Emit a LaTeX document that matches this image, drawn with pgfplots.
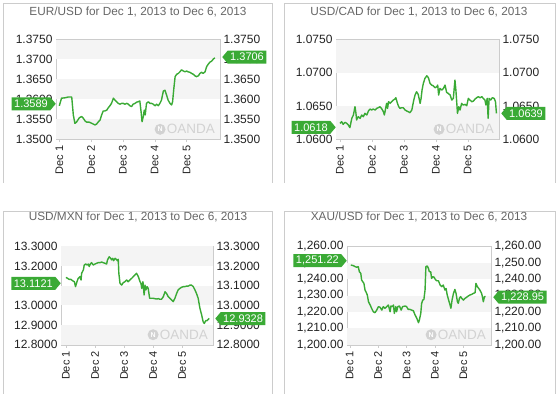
\documentclass[border=0pt]{standalone}
\usepackage{pgfplots}
\pgfplotsset{compat=1.18}
\usepackage{fontspec}
\setmainfont{Liberation Sans}
\usetikzlibrary{shapes.symbols}
\definecolor{oagreen}{HTML}{3AAA35}
\definecolor{bandgray}{HTML}{F4F4F4}
\definecolor{framegray}{HTML}{CCCCCC}
\definecolor{titlegray}{HTML}{666666}
\definecolor{wmgray}{HTML}{D2D2D2}
\definecolor{labelblack}{HTML}{222222}
\pgfplotsset{
  fxbase/.style={
    scale only axis, clip mode=individual,
    axis line style={draw=framegray},
    xtick={0,1,2,3,4}, xticklabels={Dec 1,Dec 2,Dec 3,Dec 4,Dec 5},
    xtick align=outside, major tick length=3pt,
    xtick style={draw=framegray}, xtick pos=left,
    ytick style={draw=none},
    xticklabel style={rotate=90, anchor=east, font=\fontsize{11}{12}\selectfont, text=labelblack},
    yticklabel style={font=\fontsize{12}{13}\selectfont, text=labelblack},
    /pgf/number format/assume math mode=true,
    scaled y ticks=false,
  },
  fxright/.style={
    scale only axis, hide x axis,
    axis line style={draw=none}, ytick style={draw=none},
    yticklabel pos=right,
    yticklabel style={font=\fontsize{12}{13}\selectfont, text=labelblack},
    /pgf/number format/assume math mode=true,
    scaled y ticks=false,
  },
  fxline/.style={oagreen, line width=1.4pt, line join=round, no marks},
}
\tikzset{
  callL/.style={signal, signal to=east, signal pointer angle=100, fill=oagreen, text=white,
    font=\fontsize{11}{12}\selectfont, inner xsep=2.5pt, inner ysep=1.5pt, minimum height=13pt, anchor=east},
  callR/.style={signal, signal to=west, signal pointer angle=100, fill=oagreen, text=white,
    font=\fontsize{11}{12}\selectfont, inner xsep=2.5pt, inner ysep=1.5pt, minimum height=13pt, anchor=west},
  wm/.style={text=wmgray, font=\fontsize{13.5}{14}\selectfont, inner sep=0pt, anchor=south east},
  ttl/.style={text=titlegray, font=\fontsize{11.8}{13}\selectfont},
}
\begin{document}
\begin{tikzpicture}[x=1pt,y=1pt]
\useasboundingbox (0,0) rectangle (558,-394);
% panel frames
\draw[framegray] (3,-183) -- (3,-3) -- (272,-3) -- (272,-183);
\draw[framegray] (284,-183) -- (284,-3) -- (555,-3) -- (555,-183);
\draw[framegray] (3,-394) -- (3,-211) -- (272,-211) -- (272,-394);
\draw[framegray] (284,-394) -- (284,-211) -- (555,-211) -- (555,-394);
% titles
\node[ttl] at (138,-12) {EUR/USD for Dec 1, 2013 to Dec 6, 2013};
\node[ttl] at (419,-12) {USD/CAD for Dec 1, 2013 to Dec 6, 2013};
\node[ttl] at (138,-217) {USD/MXN for Dec 1, 2013 to Dec 6, 2013};
\node[ttl] at (419,-217) {XAU/USD for Dec 1, 2013 to Dec 6, 2013};

% ---------------- EUR/USD ----------------
\begin{axis}[fxbase, at={(56pt,-139.3pt)}, anchor=south west, width=164pt, height=99.8pt,
  xmin=-0.104, xmax=5.05, ymin=1.35, ymax=1.375,
  ytick={1.35,1.355,1.36,1.365,1.37,1.375},
  yticklabel style={/pgf/number format/fixed, /pgf/number format/fixed zerofill, /pgf/number format/precision=4}]
\fill[bandgray] (axis cs:-0.104,1.370) rectangle (axis cs:5.05,1.375);
\fill[bandgray] (axis cs:-0.104,1.360) rectangle (axis cs:5.05,1.365);
\fill[bandgray] (axis cs:-0.104,1.350) rectangle (axis cs:5.05,1.355);
\node[wm] (wmA) at (rel axis cs:1,0) [xshift=-5pt, yshift=5pt] {OANDA};
\fill[wmgray] ([xshift=-6.5pt]wmA.west) circle (5.5pt);
\node[text=white, font=\bfseries\fontsize{7}{7}\selectfont, inner sep=0pt] at ([xshift=-6.5pt]wmA.west) {N};
\addplot[fxline] table {
0.00 1.3584
0.07 1.3603
0.18 1.3604
0.28 1.3606
0.39 1.3606
0.44 1.3561
0.49 1.3540
0.54 1.3543
0.63 1.3554
0.70 1.3557
0.75 1.3553
0.81 1.3546
0.86 1.3543
0.94 1.3543
1.02 1.3540
1.07 1.3538
1.12 1.3536
1.17 1.3538
1.23 1.3544
1.28 1.3548
1.33 1.3561
1.38 1.3571
1.43 1.3571
1.49 1.3573
1.54 1.3579
1.59 1.3584
1.64 1.3590
1.70 1.3603
1.75 1.3598
1.80 1.3594
1.85 1.3590
1.91 1.3588
1.96 1.3590
2.01 1.3590
2.06 1.3588
2.12 1.3590
2.17 1.3588
2.22 1.3584
2.27 1.3582
2.32 1.3588
2.38 1.3590
2.43 1.3593
2.48 1.3594
2.53 1.3596
2.57 1.3569
2.60 1.3544
2.64 1.3557
2.67 1.3573
2.70 1.3561
2.74 1.3590
2.80 1.3594
2.85 1.3590
2.90 1.3590
2.95 1.3588
3.01 1.3584
3.06 1.3588
3.11 1.3584
3.16 1.3590
3.21 1.3598
3.27 1.3621
3.32 1.3623
3.37 1.3611
3.42 1.3598
3.48 1.3590
3.53 1.3586
3.56 1.3594
3.60 1.3628
3.64 1.3657
3.69 1.3663
3.74 1.3665
3.79 1.3669
3.84 1.3674
3.90 1.3671
3.95 1.3669
4.00 1.3671
4.05 1.3669
4.10 1.3668
4.16 1.3665
4.21 1.3663
4.26 1.3659
4.31 1.3657
4.37 1.3659
4.42 1.3665
4.47 1.3668
4.52 1.3665
4.58 1.3669
4.63 1.3682
4.68 1.3688
4.73 1.3693
4.79 1.3696
4.84 1.3701
4.89 1.3704
};
\coordinate (AL) at (axis cs:-0.104,1.3589);
\coordinate (AR) at (axis cs:5.05,1.3706);
\end{axis}
\begin{axis}[fxright, at={(56pt,-139.3pt)}, anchor=south west, width=164pt, height=99.8pt,
  xmin=-0.104, xmax=5.05, ymin=1.35, ymax=1.375,
  ytick={1.35,1.355,1.36,1.365,1.37,1.375},
  yticklabel style={/pgf/number format/fixed, /pgf/number format/fixed zerofill, /pgf/number format/precision=4}]
\end{axis}

% ---------------- USD/CAD ----------------
\begin{axis}[fxbase, at={(336pt,-139.3pt)}, anchor=south west, width=163pt, height=99.8pt,
  xmin=-0.125, xmax=4.98, ymin=1.06, ymax=1.075,
  ytick={1.06,1.065,1.07,1.075},
  yticklabel style={/pgf/number format/fixed, /pgf/number format/fixed zerofill, /pgf/number format/precision=4}]
\fill[bandgray] (axis cs:-0.125,1.070) rectangle (axis cs:4.98,1.075);
\fill[bandgray] (axis cs:-0.125,1.060) rectangle (axis cs:4.98,1.065);
\node[wm] (wmB) at (rel axis cs:1,0) [xshift=-5pt, yshift=5pt] {OANDA};
\fill[wmgray] ([xshift=-6.5pt]wmB.west) circle (5.5pt);
\node[text=white, font=\bfseries\fontsize{7}{7}\selectfont, inner sep=0pt] at ([xshift=-6.5pt]wmB.west) {N};
\addplot[fxline] table {
0.00 1.06240
0.05 1.06265
0.10 1.06225
0.16 1.06255
0.21 1.06240
0.26 1.06215
0.31 1.06175
0.37 1.06315
0.42 1.06365
0.47 1.06490
0.50 1.06390
0.52 1.06290
0.57 1.06340
0.63 1.06315
0.68 1.06365
0.73 1.06340
0.78 1.06390
0.84 1.06365
0.89 1.06425
0.94 1.06455
0.99 1.06440
1.04 1.06455
1.10 1.06440
1.15 1.06465
1.20 1.06475
1.25 1.06490
1.30 1.06465
1.36 1.06415
1.39 1.06365
1.42 1.06440
1.46 1.06540
1.49 1.06465
1.52 1.06565
1.57 1.06540
1.62 1.06565
1.67 1.06590
1.72 1.06605
1.75 1.06625
1.80 1.06540
1.84 1.06490
1.88 1.06465
1.93 1.06475
1.98 1.06475
2.04 1.06440
2.09 1.06425
2.14 1.06415
2.19 1.06400
2.25 1.06440
2.30 1.06565
2.35 1.06665
2.40 1.06715
2.45 1.06675
2.51 1.06540
2.54 1.06615
2.57 1.06740
2.61 1.06840
2.66 1.06915
2.72 1.06955
2.77 1.06925
2.82 1.06840
2.87 1.06815
2.92 1.06805
2.98 1.06775
3.03 1.06790
3.06 1.06815
3.09 1.06665
3.13 1.06765
3.19 1.06740
3.24 1.06765
3.29 1.06815
3.34 1.06705
3.39 1.06690
3.45 1.06665
3.50 1.06590
3.55 1.06615
3.60 1.06890
3.63 1.06740
3.68 1.06390
3.72 1.06490
3.76 1.06440
3.81 1.06540
3.86 1.06515
3.92 1.06525
3.97 1.06505
4.02 1.06615
4.07 1.06590
4.13 1.06565
4.18 1.06575
4.23 1.06605
4.28 1.06625
4.33 1.06640
4.39 1.06625
4.44 1.06640
4.49 1.06615
4.54 1.06590
4.57 1.06515
4.61 1.06615
4.64 1.06315
4.67 1.06615
4.72 1.06590
4.77 1.06625
4.83 1.06615
4.87 1.06565
4.90 1.06390
};
\coordinate (BL) at (axis cs:-0.125,1.0618);
\coordinate (BR) at (axis cs:4.98,1.0639);
\end{axis}
\begin{axis}[fxright, at={(336pt,-139.3pt)}, anchor=south west, width=163pt, height=99.8pt,
  xmin=-0.125, xmax=4.98, ymin=1.06, ymax=1.075,
  ytick={1.06,1.065,1.07,1.075},
  yticklabel style={/pgf/number format/fixed, /pgf/number format/fixed zerofill, /pgf/number format/precision=4}]
\end{axis}

% ---------------- USD/MXN ----------------
\begin{axis}[fxbase, at={(61pt,-344.7pt)}, anchor=south west, width=152pt, height=98.4pt,
  xmin=-0.17, xmax=5.06, ymin=12.8, ymax=13.3,
  ytick={12.8,12.9,13.0,13.1,13.2,13.3},
  yticklabel style={/pgf/number format/fixed, /pgf/number format/fixed zerofill, /pgf/number format/precision=4}]
\fill[bandgray] (axis cs:-0.17,13.2) rectangle (axis cs:5.06,13.3);
\fill[bandgray] (axis cs:-0.17,13.0) rectangle (axis cs:5.06,13.1);
\fill[bandgray] (axis cs:-0.17,12.8) rectangle (axis cs:5.06,12.9);
\node[wm] (wmC) at (rel axis cs:1,0) [xshift=-5pt, yshift=5pt] {OANDA};
\fill[wmgray] ([xshift=-6.5pt]wmC.west) circle (5.5pt);
\node[text=white, font=\bfseries\fontsize{7}{7}\selectfont, inner sep=0pt] at ([xshift=-6.5pt]wmC.west) {N};
\addplot[fxline] table {
0.00 13.142
0.06 13.137
0.11 13.132
0.17 13.132
0.23 13.125
0.29 13.120
0.33 13.095
0.38 13.120
0.42 13.137
0.48 13.146
0.52 13.129
0.54 13.163
0.60 13.180
0.63 13.205
0.68 13.210
0.73 13.205
0.77 13.210
0.80 13.197
0.84 13.210
0.88 13.217
0.94 13.205
1.00 13.210
1.06 13.214
1.11 13.217
1.17 13.217
1.23 13.220
1.28 13.217
1.34 13.214
1.40 13.210
1.43 13.231
1.49 13.247
1.54 13.239
1.57 13.231
1.61 13.239
1.64 13.227
1.69 13.239
1.73 13.234
1.77 13.227
1.80 13.234
1.82 13.163
1.86 13.112
1.92 13.103
1.97 13.115
2.03 13.120
2.09 13.129
2.14 13.120
2.20 13.129
2.26 13.137
2.32 13.146
2.37 13.154
2.43 13.163
2.49 13.146
2.55 13.120
2.58 13.112
2.61 13.086
2.65 13.120
2.69 13.053
2.72 13.103
2.75 13.078
2.79 13.095
2.83 13.086
2.88 13.036
2.95 13.036
3.00 13.036
3.06 13.034
3.12 13.032
3.18 13.034
3.23 13.031
3.29 13.031
3.35 13.044
3.41 13.069
3.46 13.061
3.52 13.044
3.58 13.036
3.64 13.027
3.69 13.019
3.75 13.036
3.81 13.061
3.86 13.078
3.92 13.086
3.98 13.092
4.04 13.095
4.09 13.095
4.15 13.098
4.21 13.098
4.27 13.103
4.32 13.103
4.38 13.095
4.44 13.078
4.49 13.061
4.55 13.036
4.61 12.985
4.67 12.951
4.72 12.917
4.76 12.908
4.81 12.922
4.85 12.922
4.90 12.929
4.93 12.934
};
\coordinate (CL) at (axis cs:-0.17,13.1121);
\coordinate (CR) at (axis cs:5.06,12.9328);
\end{axis}
\begin{axis}[fxright, at={(61pt,-344.7pt)}, anchor=south west, width=152pt, height=98.4pt,
  xmin=-0.17, xmax=5.06, ymin=12.8, ymax=13.3,
  ytick={12.8,12.9,13.0,13.1,13.2,13.3},
  yticklabel style={/pgf/number format/fixed, /pgf/number format/fixed zerofill, /pgf/number format/precision=4}]
\end{axis}

% ---------------- XAU/USD ----------------
\begin{axis}[fxbase, at={(347pt,-344.7pt)}, anchor=south west, width=144pt, height=98.4pt,
  xmin=-0.095, xmax=4.97, ymin=1200, ymax=1260,
  ytick={1200,1210,1220,1230,1240,1250,1260},
  yticklabel style={/pgf/number format/fixed, /pgf/number format/fixed zerofill, /pgf/number format/precision=2, /pgf/number format/1000 sep={,}}]
\fill[bandgray] (axis cs:-0.095,1240) rectangle (axis cs:4.97,1250);
\fill[bandgray] (axis cs:-0.095,1220) rectangle (axis cs:4.97,1230);
\fill[bandgray] (axis cs:-0.095,1200) rectangle (axis cs:4.97,1210);
\node[wm] (wmD) at (rel axis cs:1,0) [xshift=-5pt, yshift=5pt] {OANDA};
\fill[wmgray] ([xshift=-6.5pt]wmD.west) circle (5.5pt);
\node[text=white, font=\bfseries\fontsize{7}{7}\selectfont, inner sep=0pt] at ([xshift=-6.5pt]wmD.west) {N};
\addplot[fxline] table {
0.04 1248.6
0.13 1248.2
0.19 1247.6
0.25 1247.2
0.30 1247.6
0.34 1244.5
0.39 1243.5
0.42 1239.4
0.46 1238.4
0.50 1237.4
0.54 1233.3
0.57 1232.3
0.62 1230.3
0.66 1226.2
0.72 1224.2
0.77 1222.2
0.83 1220.1
0.89 1219.5
0.95 1221.1
1.01 1223.2
1.07 1222.8
1.13 1221.1
1.18 1223.2
1.24 1222.2
1.30 1223.2
1.36 1224.2
1.42 1220.1
1.45 1223.6
1.50 1223.2
1.54 1224.2
1.57 1219.1
1.62 1223.2
1.65 1220.1
1.69 1223.2
1.75 1223.6
1.81 1221.1
1.86 1223.2
1.95 1223.6
2.00 1223.2
2.06 1221.5
2.12 1221.5
2.18 1221.1
2.24 1220.7
2.30 1218.1
2.36 1216.1
2.42 1213.4
2.45 1215.0
2.50 1219.1
2.53 1225.2
2.57 1227.2
2.61 1227.6
2.65 1233.3
2.68 1247.6
2.73 1248.0
2.77 1246.5
2.80 1244.5
2.85 1244.5
2.88 1240.4
2.92 1241.5
2.97 1241.1
3.01 1239.8
3.06 1239.0
3.12 1239.0
3.18 1236.4
3.24 1235.4
3.29 1236.4
3.35 1233.3
3.39 1234.3
3.43 1230.3
3.48 1227.2
3.53 1224.2
3.56 1222.2
3.60 1227.2
3.65 1231.3
3.70 1233.7
3.74 1231.3
3.79 1226.2
3.82 1225.2
3.86 1228.3
3.90 1229.3
3.94 1228.3
4.00 1227.2
4.06 1228.3
4.11 1228.9
4.17 1229.7
4.23 1230.3
4.29 1230.7
4.35 1231.3
4.41 1231.7
4.44 1237.4
4.49 1235.4
4.54 1234.3
4.58 1233.3
4.64 1231.3
4.68 1228.3
4.70 1226.2
4.74 1229.3
4.78 1229.3
};
\coordinate (DL) at (axis cs:-0.095,1251.22);
\coordinate (DR) at (axis cs:4.97,1228.95);
\end{axis}
\begin{axis}[fxright, at={(347pt,-344.7pt)}, anchor=south west, width=144pt, height=98.4pt,
  xmin=-0.095, xmax=4.97, ymin=1200, ymax=1260,
  ytick={1200,1210,1220,1230,1240,1250,1260},
  yticklabel style={/pgf/number format/fixed, /pgf/number format/fixed zerofill, /pgf/number format/precision=2, /pgf/number format/1000 sep={,}}]
\end{axis}

% callouts
\node[callL] at (AL) {1.3589};
\node[callR] at ([xshift=2pt]AR) {1.3706};
\node[callL] at (BL) {1.0618};
\node[callR] at ([xshift=2pt]BR) {1.0639};
\node[callL] at (CL) {13.1121};
\node[callR] at ([xshift=2pt]CR) {12.9328};
\node[callL] at (DL) {1,251.22};
\node[callR] at ([xshift=2pt]DR) {1,228.95};
\end{tikzpicture}
\end{document}
